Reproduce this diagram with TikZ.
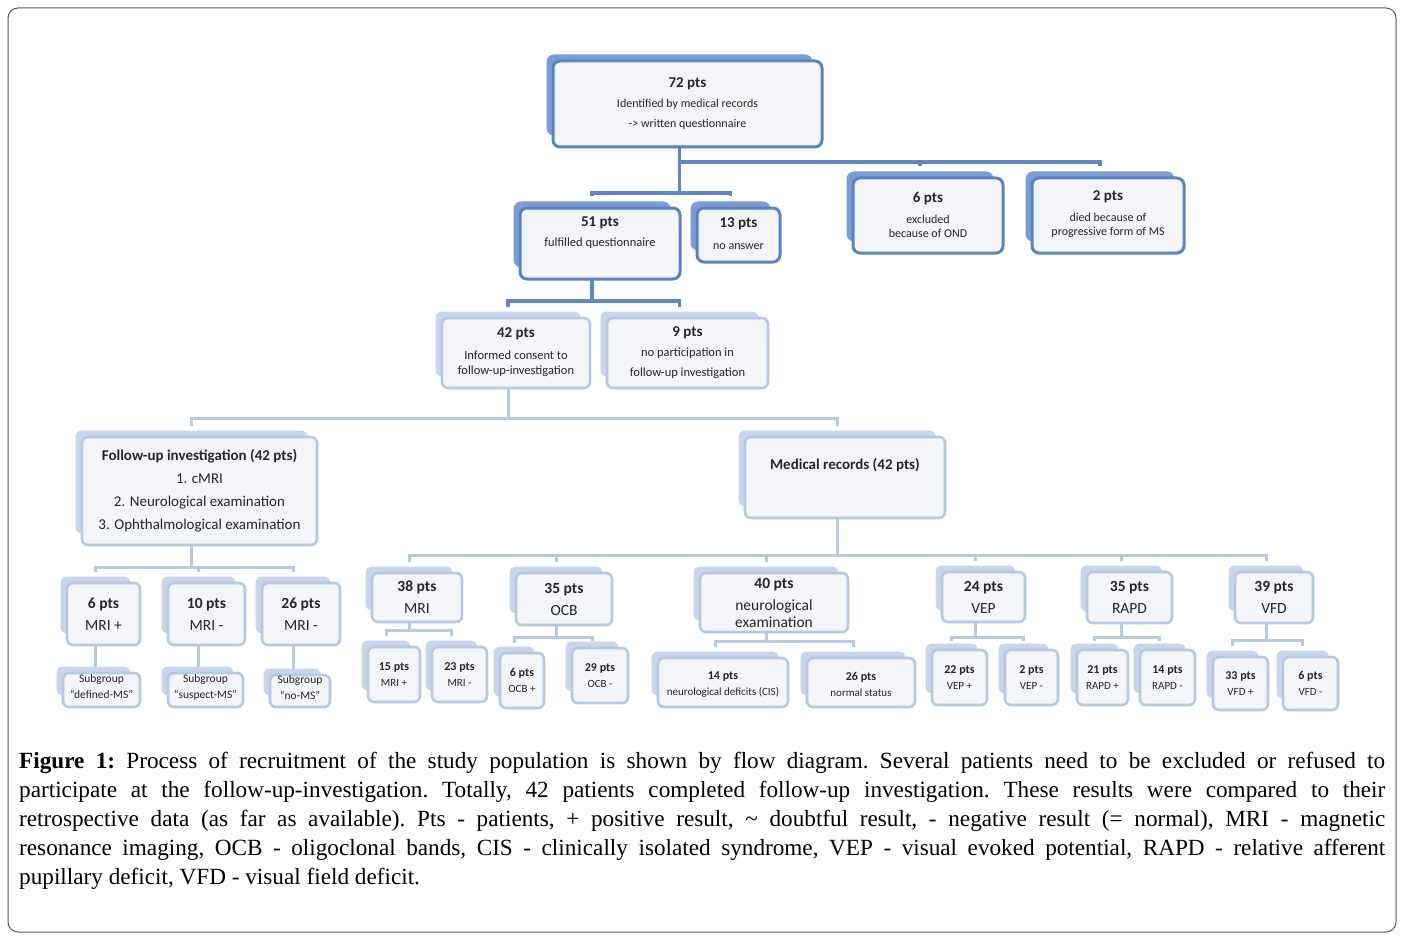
\documentclass[tikz,border=0pt]{standalone}
\usepackage{fontspec}
\setmainfont{Carlito}
\newfontfamily\capfont{Liberation Serif}
\usetikzlibrary{fit,calc,backgrounds}
\definecolor{dkb}{RGB}{88,132,196}
\definecolor{dks}{RGB}{122,158,212}
\definecolor{ltb}{RGB}{182,200,226}
\definecolor{lts}{RGB}{200,214,235}
\definecolor{frc}{RGB}{243,245,248}
\definecolor{dkc}{RGB}{96,136,196}
\definecolor{ltc}{RGB}{184,201,226}
\definecolor{framec}{RGB}{90,90,90}
\tikzset{
 dkfront/.style={draw=dkb, line width=3pt, fill=frc, rounded corners=7pt, inner sep=0pt},
 dkshad/.style={draw=dks, line width=1pt, fill=dks, rounded corners=7pt, inner sep=0pt},
 ltfront/.style={draw=ltb, line width=2.6pt, fill=frc, rounded corners=6pt, inner sep=0pt},
 ltshad/.style={draw=lts, line width=1pt, fill=lts, rounded corners=6pt, inner sep=0pt},
 dkconn/.style={draw=dkc, line width=3.4pt},
 ltconn/.style={draw=ltc, line width=3pt},
 txt/.style={align=center, inner sep=0pt, text=black!85},
}
\newcommand\hd[2]{{\fontsize{#1}{#1}\selectfont\bfseries #2}}
% #1 name #2 dk/lt #3 x1 #4 y1 #5 x2 #6 y2 #7 dy #8 font #9 text
\newcommand\bx[9]{%
 \node[#2shad, fit={($(#3,#4)+(-6,-6)$) ($(#5,#6)+(-10,-12)$)}] (s#1) {};
 \node[#2front, fit={(#3,#4) (#5,#6)}] (#1) {};
 \node[txt, font=#8] (t#1) at ($(#1.center)+(0,#7)$) {#9};
}
\newcommand\fRow{\fontsize{15.5}{22}\selectfont}
\newcommand\fSm{\fontsize{11}{16}\selectfont}
\newcommand\fSub{\fontsize{11.5}{16}\selectfont}
\begin{document}
\begin{tikzpicture}[x=1pt,y=-1pt]
\useasboundingbox (0,0) rectangle (1401,939);
\begin{pgfonlayer}{background}
\fill[white] (0,0) rectangle (1401,939);
\end{pgfonlayer}
\draw[framec, line width=1pt, rounded corners=10pt] (8,8) rectangle (1396,932);

% ---- top level (dark)
\bx{b72}{dk}{553}{61}{822}{147}{0}{\fontsize{12}{20}\selectfont}{\hd{15}{72 pts}\\Identified by medical records\\-> written questionnaire}
\bx{b51}{dk}{520}{208}{680}{279}{-11}{\fontsize{12.5}{20}\selectfont}{\hd{15}{51 pts}\\fulfilled questionnaire}
\bx{b13}{dk}{697}{208}{780}{262}{-1}{\fontsize{12}{22}\selectfont}{\hd{15}{13 pts}\\no answer}
\bx{b6x}{dk}{853}{178}{1003}{253}{-1}{\fontsize{12}{14}\selectfont}{\hd{15}{6 pts}\\[7pt]excluded\\because of OND}
\bx{b2x}{dk}{1032}{178}{1184}{253}{-1}{\fontsize{12}{14}\selectfont}{\hd{15}{2 pts}\\[7pt]died because of\\progressive form of MS}

% ---- second level (light)
\bx{b42}{lt}{442}{318}{590}{388}{-1}{\fontsize{12.5}{15}\selectfont}{\hd{15}{42 pts}\\[7pt]Informed consent to\\follow-up-investigation}
\bx{b9}{lt}{607}{318}{768}{388}{0}{\fontsize{12.5}{20}\selectfont}{\hd{15}{9 pts}\\no participation in\\follow-up investigation}
\bx{bFU}{lt}{82}{437}{317}{545}{0}{\fontsize{15}{23}\selectfont}{\textbf{Follow-up investigation (42 pts)}\\1. cMRI\\2. Neurological examination\\3. Ophthalmological examination}
\bx{bMR}{lt}{745}{437}{945}{518}{-12}{\fontsize{15}{23}\selectfont}{\textbf{Medical records (42 pts)}}

% ---- follow-up children
\bx{b6m}{lt}{67}{583}{140}{645}{0}{\fRow}{\textbf{6 pts}\\MRI +}
\bx{b10m}{lt}{168}{583}{245}{645}{0}{\fRow}{\textbf{10 pts}\\MRI -}
\bx{b26m}{lt}{262}{583}{340}{645}{0}{\fRow}{\textbf{26 pts}\\MRI -}
\bx{bS1}{lt}{63}{673}{140}{707}{-3}{\fSub}{Subgroup\\“defined-MS”}
\bx{bS2}{lt}{168}{673}{243}{707}{-3}{\fSub}{Subgroup\\“suspect-MS”}
\bx{bS3}{lt}{270}{675}{330}{707}{-3}{\fSub}{Subgroup\\“no-MS”}

% ---- medical records children
\bx{b38}{lt}{372}{573}{462}{622}{0}{\fRow}{\textbf{38 pts}\\MRI}
\bx{b35o}{lt}{516}{573}{612}{625}{0}{\fRow}{\textbf{35 pts}\\OCB}
\bx{b40}{lt}{700}{573}{848}{632}{0}{\fRow}{\textbf{40 pts}\\neurological\\[-5pt]examination}
\bx{b24}{lt}{942}{572}{1025}{622}{0}{\fRow}{\textbf{24 pts}\\VEP}
\bx{b35r}{lt}{1087}{572}{1172}{623}{0}{\fRow}{\textbf{35 pts}\\RAPD}
\bx{b39}{lt}{1235}{572}{1313}{623}{0}{\fRow}{\textbf{39 pts}\\VFD}

% ---- third level
\bx{b15}{lt}{368}{647}{420}{702}{0}{\fSm}{\hd{12}{15 pts}\\MRI +}
\bx{b23}{lt}{432}{647}{487}{702}{0}{\fSm}{\hd{12}{23 pts}\\MRI -}
\bx{b6o}{lt}{500}{653}{544}{708}{0}{\fSm}{\hd{12}{6 pts}\\OCB +}
\bx{b29o}{lt}{572}{648}{628}{703}{0}{\fSm}{\hd{12}{29 pts}\\OCB -}
\bx{b14n}{lt}{658}{658}{788}{707}{2}{\fSm}{\hd{12}{14 pts}\\neurological deficits (CIS)}
\bx{b26n}{lt}{807}{658}{915}{707}{2}{\fSm}{\hd{12}{26 pts}\\normal status}
\bx{b22v}{lt}{932}{650}{987}{705}{0}{\fSm}{\hd{12}{22 pts}\\VEP +}
\bx{b2v}{lt}{1005}{650}{1058}{705}{0}{\fSm}{\hd{12}{2 pts}\\VEP -}
\bx{b21r}{lt}{1077}{650}{1128}{705}{0}{\fSm}{\hd{12}{21 pts}\\RAPD +}
\bx{b14r}{lt}{1140}{650}{1195}{705}{0}{\fSm}{\hd{12}{14 pts}\\RAPD -}
\bx{b33f}{lt}{1213}{657}{1268}{710}{0}{\fSm}{\hd{12}{33 pts}\\VFD +}
\bx{b6f}{lt}{1283}{657}{1338}{710}{0}{\fSm}{\hd{12}{6 pts}\\VFD -}

% ---- connectors
\begin{pgfonlayer}{background}
\draw[dkconn] (sb72.center) -- (sb72.center |- 0,193);
\draw[dkconn] (sb72.center |- 0,162) -- (sb2x.center |- 0,162) -- ([yshift=5pt]sb2x.north);
\draw[dkconn] (sb6x.center |- 0,162) -- ([yshift=5pt]sb6x.north);
\draw[dkconn] ([yshift=5pt]sb51.north) -- (sb51.center |- 0,193) -- (sb13.center |- 0,193) -- ([yshift=5pt]sb13.north);

\draw[dkconn] (sb51.center) -- (sb51.center |- 0,301);
\draw[dkconn] ([yshift=5pt]sb42.north) -- (sb42.center |- 0,301) -- (sb9.center |- 0,301) -- ([yshift=5pt]sb9.north);

\draw[ltconn] (sb42.center) -- (sb42.center |- 0,418);
\draw[ltconn] ([yshift=5pt]sbFU.north) -- (sbFU.center |- 0,418) -- (sbMR.center |- 0,418) -- ([yshift=5pt]sbMR.north);

\draw[ltconn] (sbFU.center) -- (sbFU.center |- 0,567);
\draw[ltconn] ([yshift=5pt]sb6m.north) -- (sb6m.center |- 0,567) -- (sb26m.center |- 0,567) -- ([yshift=5pt]sb26m.north);
\draw[ltconn] (sb10m.center |- 0,567) -- ([yshift=5pt]sb10m.north);
\draw[ltconn] (sb6m.center) -- (sb6m.center |- sbS1.north);
\draw[ltconn] (sb10m.center) -- (sb10m.center |- sbS2.north);
\draw[ltconn] (sb26m.center) -- (sb26m.center |- sbS3.north);

\draw[ltconn] (sbMR.center) -- (sbMR.center |- 0,555);
\draw[ltconn] ([yshift=5pt]sb38.north) -- (sb38.center |- 0,555) -- (sb39.center |- 0,555) -- ([yshift=5pt]sb39.north);
\foreach \c in {b35o,b40,b24,b35r}{
 \draw[ltconn] (s\c.center |- 0,555) -- ([yshift=5pt]s\c.north);
}

\draw[ltconn] (sb38.center) -- (sb38.center |- 0,630);
\draw[ltconn] ([yshift=5pt]sb15.north) -- (sb15.center |- 0,630) -- (sb23.center |- 0,630) -- ([yshift=5pt]sb23.north);
\draw[ltconn] (sb35o.center) -- (sb35o.center |- 0,637);
\draw[ltconn] ([yshift=4pt]sb6o.north) -- (sb6o.center |- 0,637) -- (sb29o.center |- 0,637) -- ([yshift=1pt]sb29o.north);
\draw[ltconn] (sb40.center) -- (sb40.center |- 0,641);
\draw[ltconn] ([yshift=5pt]sb14n.north) -- (sb14n.center |- 0,641) -- (sb26n.center |- 0,641) -- ([yshift=5pt]sb26n.north);
\draw[ltconn] (sb24.center) -- (sb24.center |- 0,637);
\draw[ltconn] ([yshift=3pt]sb22v.north) -- (sb22v.center |- 0,637) -- (sb2v.center |- 0,637) -- ([yshift=3pt]sb2v.north);
\draw[ltconn] (sb35r.center) -- (sb35r.center |- 0,637);
\draw[ltconn] ([yshift=3pt]sb21r.north) -- (sb21r.center |- 0,637) -- (sb14r.center |- 0,637) -- ([yshift=3pt]sb14r.north);
\draw[ltconn] (sb39.center) -- (sb39.center |- 0,640);
\draw[ltconn] ([yshift=5pt]sb33f.north) -- (sb33f.center |- 0,640) -- (sb6f.center |- 0,640) -- ([yshift=5pt]sb6f.north);
\end{pgfonlayer}

% ---- caption
\node[anchor=north west, inner sep=0pt, text width=1366pt, align=justify,
 font=\capfont\fontsize{23.2}{29}\selectfont] (cap) at (19,752)
 {\frenchspacing\hyphenpenalty=10000\exhyphenpenalty=10000\tolerance=10000%
 \textbf{Figure 1:} Process of recruitment of the study population is shown by flow diagram. Several patients need to be excluded or refused to\linebreak
 participate at the follow-up-investigation. Totally, 42 patients completed follow-up investigation. These results were compared to their\linebreak
 retrospective data (as far as available). Pts - patients, + positive result, \textasciitilde{} doubtful result, - negative result (= normal), MRI - magnetic\linebreak
 resonance imaging, OCB - oligoclonal bands, CIS - clinically isolated syndrome, VEP - visual evoked potential, RAPD - relative afferent\linebreak
 pupillary deficit, VFD - visual field deficit.};
\end{tikzpicture}
\end{document}
